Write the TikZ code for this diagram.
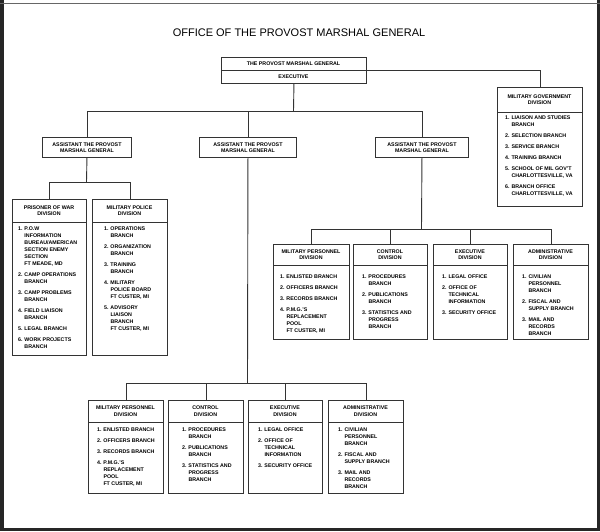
\documentclass[tikz,border=0pt]{standalone}
\usepackage{fontspec}
\setmainfont{Liberation Sans}
\newcommand\nx{\\[4pt]}
\newcommand\boff{8.3}
\tikzset{
 ln/.style={line width=0.9pt, draw=black!80},
 boxs/.style={ln, rectangle, inner sep=0pt, fill=white},
 hdr/.style={align=center, font=\bfseries\fontsize{5.3}{6.5}\selectfont, inner sep=0pt},
 bodytxt/.style={anchor=north west, inner sep=0pt, font=\bfseries\fontsize{5.3}{7}\selectfont},
 conn/.style={line width=0.9pt, draw=black!80},
}
\newcommand\orgbox[9]{%
 \node[boxs, anchor=north west, minimum width={(#4-#2)*1pt}, minimum height={(#5-#3)*1pt}] (#1) at (#2,#3) {};
 \draw[ln] (#2,#6) -- (#4,#6);
 \node[hdr] (#1-h) at ({(#2+#4)/2},{(#3+#6)/2}) {#7};
 \node[bodytxt] (#1-b) at ({#2+#8},{#6+\boff}) {\begin{tabular}{@{}p{6.3pt}@{}l@{}}#9\end{tabular}};
}
\begin{document}
\begin{tikzpicture}[x=1pt, y=-1pt]
\useasboundingbox (0,0) rectangle (600,531);
\fill[white] (0,0) rectangle (600,531);
% frame
\fill[black!85] (0,0) rectangle (3.5,531);
\fill[black!85] (596.5,0) rectangle (600,531);
\fill[black!85] (0,528) rectangle (600,531);
\draw[black!60, line width=0.6pt] (0,3) -- (600,3);

\node[font=\fontsize{11}{13}\selectfont, inner sep=0pt] (title) at (299,33) {OFFICE OF THE PROVOST MARSHAL GENERAL};

% top box
\node[boxs, anchor=north west, minimum width=145pt, minimum height=26pt] (pmg) at (221,57) {};
\draw[ln] (221,70) -- (366,70);
\node[hdr] (pmg-t) at (293.5,63.5) {THE PROVOST MARSHAL GENERAL};
\node[hdr] (pmg-e) at (293.5,76.8) {EXECUTIVE};

% assistants
\node[boxs, hdr, anchor=north west, minimum width=89pt, minimum height=20pt] (a1) at (42,137) {ASSISTANT THE PROVOST\\MARSHAL GENERAL};
\node[boxs, hdr, anchor=north west, minimum width=97pt, minimum height=20pt] (a2) at (199,137) {ASSISTANT THE PROVOST\\MARSHAL GENERAL};
\node[boxs, hdr, anchor=north west, minimum width=93pt, minimum height=20pt] (a3) at (375,137) {ASSISTANT THE PROVOST\\MARSHAL GENERAL};

% military government
\renewcommand\boff{2.8}
\orgbox{mg}{497}{87}{582}{206}{112}{MILITARY GOVERNMENT\\DIVISION}{8}{%
1.&LIAISON AND STUDIES\\&BRANCH\nx
2.&SELECTION BRANCH\nx
3.&SERVICE BRANCH\nx
4.&TRAINING BRANCH\nx
5.&SCHOOL OF MIL GOV'T\\&CHARLOTTESVILLE, VA\nx
6.&BRANCH OFFICE\\&CHARLOTTESVILLE, VA}

% left group
\renewcommand\boff{3.6}
\orgbox{pow}{12}{199}{86}{355}{222}{PRISONER OF WAR\\DIVISION}{6}{%
1.&P.O.W\\&INFORMATION\\&BUREAU/AMERICAN\\&SECTION ENEMY\\&SECTION\\&FT MEADE, MD\nx
2.&CAMP OPERATIONS\\&BRANCH\nx
3.&CAMP PROBLEMS\\&BRANCH\nx
4.&FIELD LIAISON\\&BRANCH\nx
5.&LEGAL BRANCH\nx
6.&WORK PROJECTS\\&BRANCH}
\orgbox{mp}{92}{199}{167}{355}{222}{MILITARY POLICE\\DIVISION}{12}{%
1.&OPERATIONS\\&BRANCH\nx
2.&ORGANIZATION\\&BRANCH\nx
3.&TRAINING\\&BRANCH\nx
4.&MILITARY\\&POLICE BOARD\\&FT CUSTER, MI\nx
5.&ADVISORY\\&LIAISON\\&BRANCH\\&FT CUSTER, MI}

% right group
\renewcommand\boff{8}
\orgbox{rmp}{273}{244}{349}{339}{265}{MILITARY PERSONNEL\\DIVISION}{7}{%
1.&ENLISTED BRANCH\nx
2.&OFFICERS BRANCH\nx
3.&RECORDS BRANCH\nx
4.&P.M.G.'S\\&REPLACEMENT\\&POOL\\&FT CUSTER, MI}
\orgbox{rct}{353}{244}{427}{339}{265}{CONTROL\\DIVISION}{9}{%
1.&PROCEDURES\\&BRANCH\nx
2.&PUBLICATIONS\\&BRANCH\nx
3.&STATISTICS AND\\&PROGRESS\\&BRANCH}
\orgbox{rex}{433}{244}{507}{339}{265}{EXECUTIVE\\DIVISION}{9}{%
1.&LEGAL OFFICE\nx
2.&OFFICE OF\\&TECHNICAL\\&INFORMATION\nx
3.&SECURITY OFFICE}
\orgbox{rad}{513}{244}{588}{339}{265}{ADMINISTRATIVE\\DIVISION}{9}{%
1.&CIVILIAN\\&PERSONNEL\\&BRANCH\nx
2.&FISCAL AND\\&SUPPLY BRANCH\nx
3.&MAIL AND\\&RECORDS\\&BRANCH}

% bottom group
\renewcommand\boff{4.5}
\orgbox{bmp}{88}{400}{163}{493}{422}{MILITARY PERSONNEL\\DIVISION}{9}{%
1.&ENLISTED BRANCH\nx
2.&OFFICERS BRANCH\nx
3.&RECORDS BRANCH\nx
4.&P.M.G.'S\\&REPLACEMENT\\&POOL\\&FT CUSTER, MI}
\orgbox{bct}{168}{400}{243}{493}{422}{CONTROL\\DIVISION}{14}{%
1.&PROCEDURES\\&BRANCH\nx
2.&PUBLICATIONS\\&BRANCH\nx
3.&STATISTICS AND\\&PROGRESS\\&BRANCH}
\orgbox{bex}{248}{400}{322}{493}{422}{EXECUTIVE\\DIVISION}{10}{%
1.&LEGAL OFFICE\nx
2.&OFFICE OF\\&TECHNICAL\\&INFORMATION\nx
3.&SECURITY OFFICE}
\orgbox{bad}{328}{400}{403}{493}{422}{ADMINISTRATIVE\\DIVISION}{10}{%
1.&CIVILIAN\\&PERSONNEL\\&BRANCH\nx
2.&FISCAL AND\\&SUPPLY BRANCH\nx
3.&MAIL AND\\&RECORDS\\&BRANCH}

% connectors
\coordinate (bus1) at (293.5,111);
\draw[conn] (pmg.south) -- (bus1);
\draw[conn] (a1.north) -- (a1.north |- bus1) -- (a3.north |- bus1) -- (a3.north);
\draw[conn] (a2.north) -- (a2.north |- bus1);
\draw[conn] (pmg.east) -| (mg.north);

\coordinate (bus2) at (86.5,182);
\draw[conn] (a1.south) -- (bus2);
\draw[conn] (pow.north) -- (pow.north |- bus2) -- (mp.north |- bus2) -- (mp.north);

\coordinate (bus3) at (421.5,229);
\draw[conn] (a3.south) -- (bus3);
\draw[conn] (rmp.north) -- (rmp.north |- bus3) -- (rad.north |- bus3) -- (rad.north);
\draw[conn] (rct.north) -- (rct.north |- bus3);
\draw[conn] (rex.north) -- (rex.north |- bus3);

\coordinate (bus4) at (247.5,383);
\draw[conn] (a2.south) -- (bus4);
\draw[conn] (bmp.north) -- (bmp.north |- bus4) -- (bad.north |- bus4) -- (bad.north);
\draw[conn] (bct.north) -- (bct.north |- bus4);
\draw[conn] (bex.north) -- (bex.north |- bus4);
\end{tikzpicture}
\end{document}
